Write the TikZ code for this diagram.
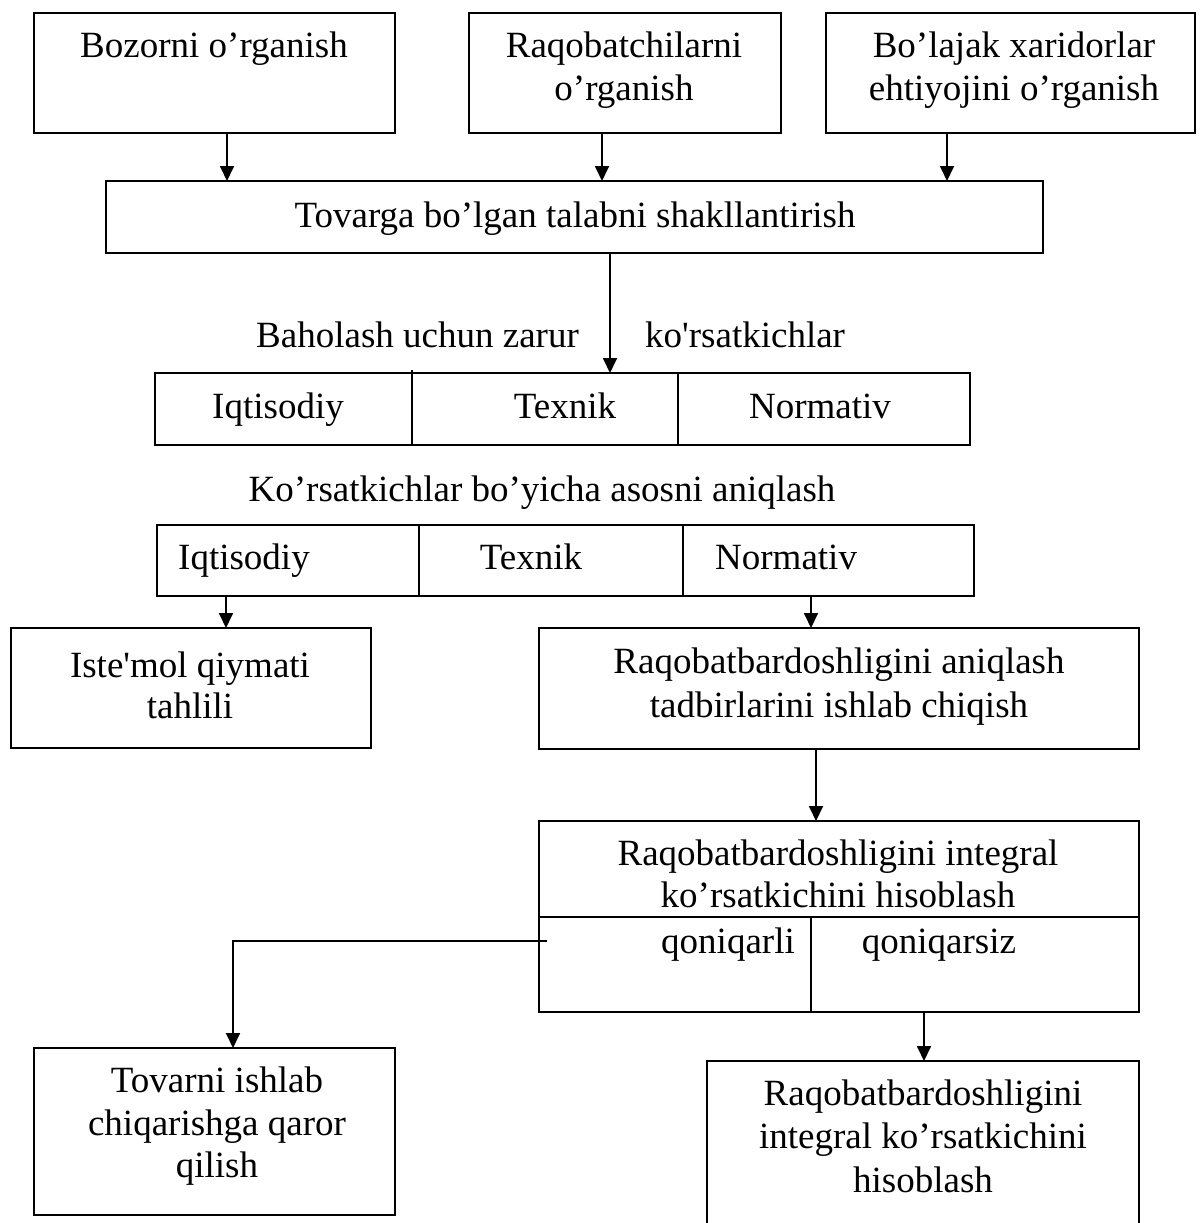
\documentclass[tikz,border=0pt]{standalone}
\usepackage{fontspec}
\setmainfont{Liberation Serif}
\usetikzlibrary{arrows.meta}
\begin{document}
\begin{tikzpicture}[x=1pt,y=-1pt,
  box/.style={draw, line width=1.8pt, inner sep=0pt, outer sep=0pt, anchor=north west},
  txt/.style={inner sep=0pt, anchor=base, font=\fontsize{37}{42}\selectfont},
  arr/.style={line width=1.8pt, -{Triangle[length=15pt,width=14pt]}},
  rule/.style={line width=1.4pt}]
\useasboundingbox (0,0) rectangle (1202,1223);
\fill[white] (0,0) rectangle (1202,1223);
\clip (0,0) rectangle (1202,1223);

% top row of boxes
\node[box, minimum width=361pt, minimum height=120pt] (b1) at (34,13) {};
\node[box, minimum width=312pt, minimum height=120pt] (b2) at (469,13) {};
\node[box, minimum width=369pt, minimum height=120pt] (b3) at (826,13) {};
\node[txt] (t1) at (214,58) {Bozorni o’rganish};
\node[txt] (t2a) at (624,58) {Raqobatchilarni};
\node[txt] (t2b) at (624,100) {o’rganish};
\node[txt] (t3a) at (1014,58) {Bo’lajak xaridorlar};
\node[txt] (t3b) at (1014,100) {ehtiyojini o’rganish};

% demand box
\node[box, minimum width=937pt, minimum height=72pt] (tov) at (106,181) {};
\node[txt] (t4) at (575,227) {Tovarga bo’lgan talabni shakllantirish};

% first table
\node[txt, anchor=base west] (t5a) at (256,347) {Baholash uchun zarur};
\node[txt, anchor=base west] (t5b) at (645,347) {ko\textquotesingle rsatkichlar};
\node[box, minimum width=815pt, minimum height=72pt] (tab1) at (155,373) {};
\draw[rule] (412,370) -- (412,445);
\draw[rule] (678,373) -- (678,445);
\node[txt] (t6a) at (278,418) {Iqtisodiy};
\node[txt] (t6b) at (565,418) {Texnik};
\node[txt] (t6c) at (820,418) {Normativ};

% second table
\node[txt] (t7) at (542,501) {Ko’rsatkichlar bo’yicha asosni aniqlash};
\node[box, minimum width=817pt, minimum height=71pt] (tab2) at (157,525) {};
\draw[rule] (419,525) -- (419,596);
\draw[rule] (683,525) -- (683,596);
\node[txt, anchor=base west] (t8a) at (178,569) {Iqtisodiy};
\node[txt] (t8b) at (531,569) {Texnik};
\node[txt, anchor=base west] (t8c) at (715,569) {Normativ};

% middle row
\node[box, minimum width=360pt, minimum height=120pt] (iste) at (11,628) {};
\node[txt] (t9a) at (190,677) {Iste\textquotesingle mol qiymati};
\node[txt] (t9b) at (190,718) {tahlili};
\node[box, minimum width=600pt, minimum height=121pt] (raq) at (539,628) {};
\node[txt] (t10a) at (839,673) {Raqobatbardoshligini aniqlash};
\node[txt] (t10b) at (839,717) {tadbirlarini ishlab chiqish};

% integral indicator box
\node[box, minimum width=600pt, minimum height=191pt] (integ) at (539,821) {};
\draw[line width=1.8pt] (539,917) -- (1139,917);
\draw[rule] (811,917) -- (811,1012);
\node[txt] (t11a) at (838,865) {Raqobatbardoshligini integral};
\node[txt] (t11b) at (838,907) {ko’rsatkichini hisoblash};
\node[txt] (t11c) at (728,953) {qoniqarli};
\node[txt] (t11d) at (939,953) {qoniqarsiz};

% bottom row
\node[box, minimum width=361pt, minimum height=167pt] (tovarni) at (34,1048) {};
\node[txt] (t12a) at (217,1092) {Tovarni ishlab};
\node[txt] (t12b) at (217,1135) {chiqarishga qaror};
\node[txt] (t12c) at (217,1177) {qilish};
\node[box, minimum width=432pt, minimum height=200pt] (res) at (707,1061) {};
\node[txt] (t13a) at (923,1105) {Raqobatbardoshligini};
\node[txt] (t13b) at (923,1148) {integral ko’rsatkichini};
\node[txt] (t13c) at (923,1192) {hisoblash};

% connector columns
\coordinate (c1) at (227,0);
\coordinate (c2) at (602,0);
\coordinate (c3) at (947,0);
\coordinate (c4) at (610,0);
\coordinate (c5) at (226,0);
\coordinate (c6) at (811,0);
\coordinate (c7) at (816,0);
\coordinate (c8) at (924,0);
\coordinate (c9) at (233,0);
\coordinate (q) at (547,941);

\draw[arr] (b1.south -| c1) -- (tov.north -| c1);
\draw[arr] (b2.south -| c2) -- (tov.north -| c2);
\draw[arr] (b3.south -| c3) -- (tov.north -| c3);
\draw[arr] (tov.south -| c4) -- (tab1.north -| c4);
\draw[arr] (tab2.south -| c5) -- (iste.north -| c5);
\draw[arr] (tab2.south -| c6) -- (raq.north -| c6);
\draw[arr] (raq.south -| c7) -- (integ.north -| c7);
\draw[arr] (integ.south -| c8) -- (res.north -| c8);
\draw[arr] (q) -- (q -| c9) -- (tovarni.north -| c9);
\end{tikzpicture}
\end{document}
